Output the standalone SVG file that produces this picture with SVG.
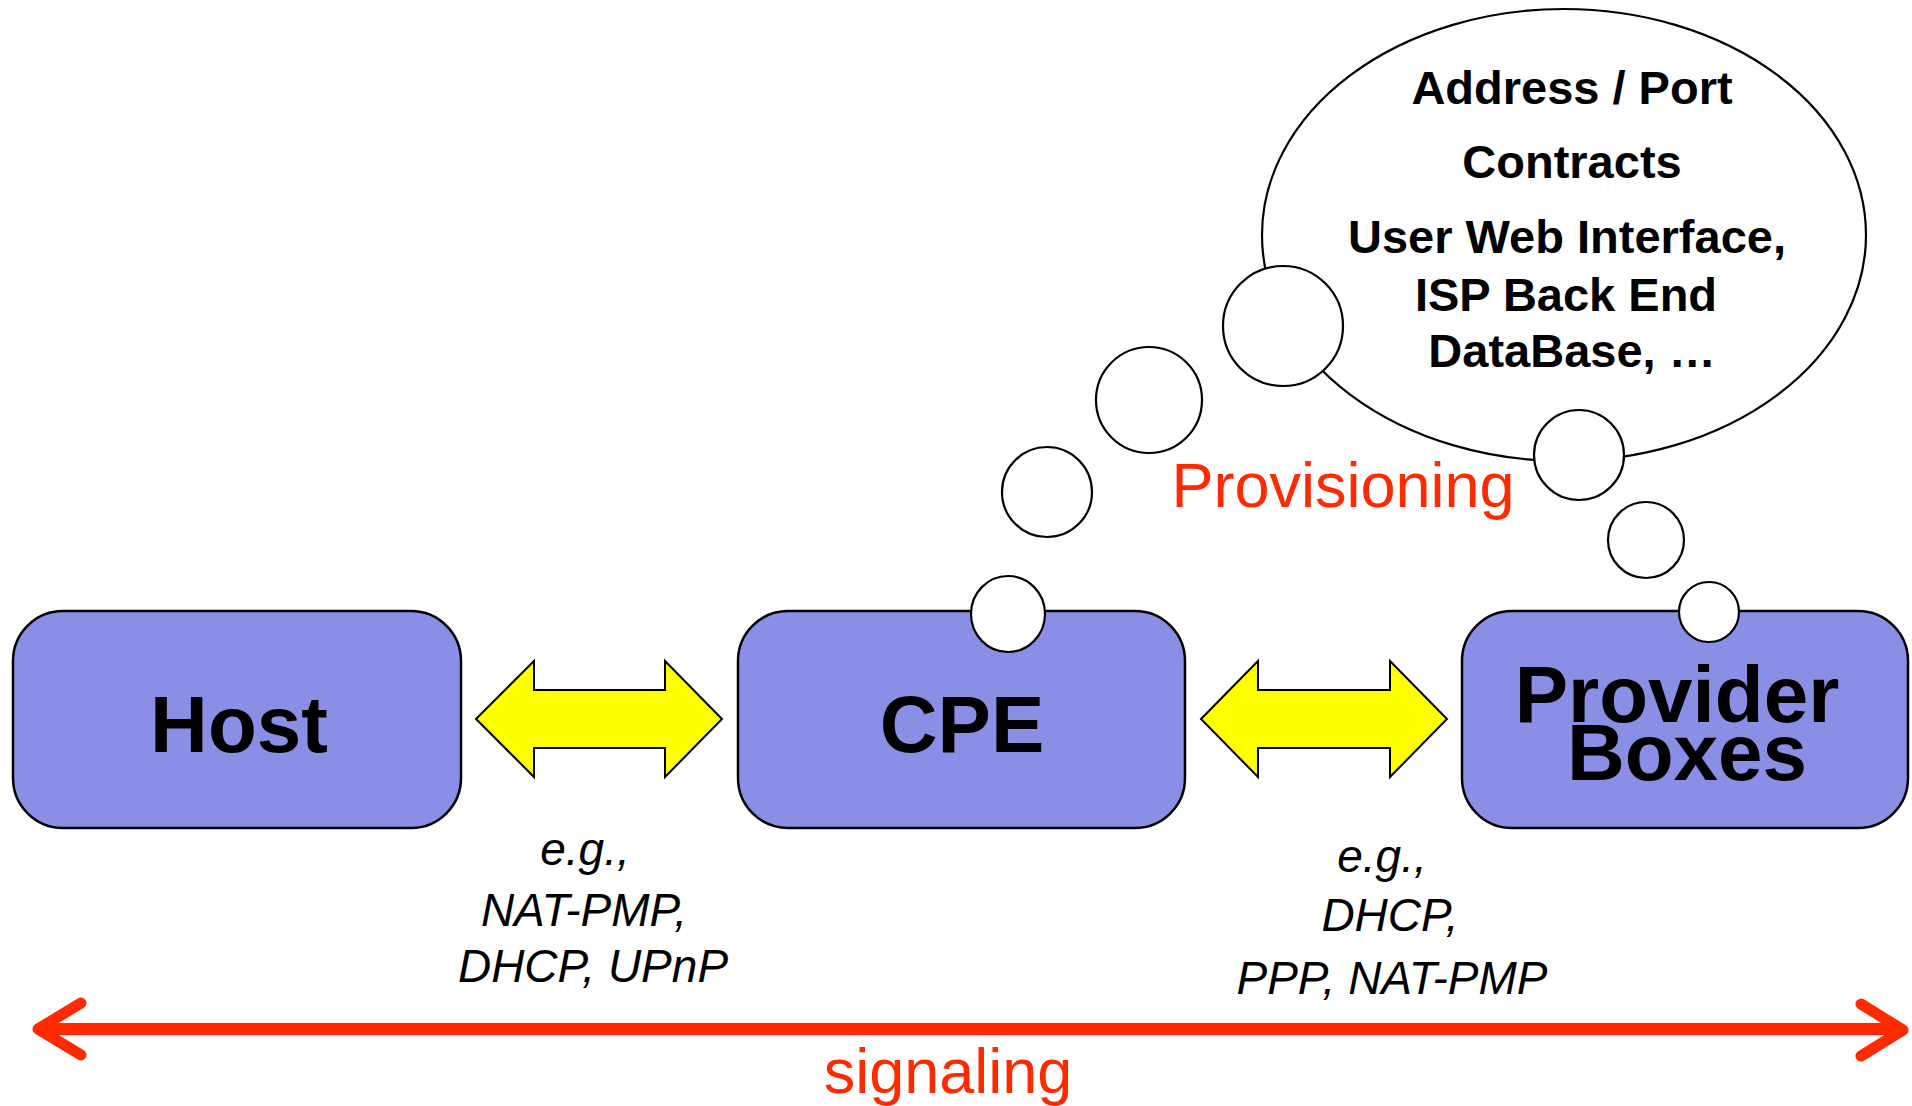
<svg xmlns="http://www.w3.org/2000/svg" width="1912" height="1106" viewBox="0 0 1912 1106">
<style>
.box{fill:#8a8fe5;stroke:#000;stroke-width:2.5}
.big{font-family:"Liberation Sans",Arial,sans-serif;font-weight:bold;font-size:80px;fill:#000;text-anchor:middle}
.bub{fill:#fff;stroke:#000;stroke-width:2.2}
.tb{font-family:"Liberation Sans",Arial,sans-serif;font-weight:bold;font-size:47px;fill:#000;text-anchor:middle}
.red{font-family:"Liberation Sans",Arial,sans-serif;font-size:63px;fill:#ff2a00;text-anchor:middle}
.it{font-family:"Liberation Sans",Arial,sans-serif;font-style:italic;font-size:46px;fill:#000;text-anchor:middle}
.yarrow{fill:#ffff00;stroke:#000;stroke-width:2}
</style>
<rect width="1912" height="1106" fill="#fff"/>

<g id="host">
<rect class="box" x="13" y="611" width="448" height="217" rx="50" ry="50"/>
<text class="big" x="239" y="752">Host</text>
</g>

<g id="cpe">
<rect class="box" x="738" y="611" width="447" height="217" rx="50" ry="50"/>
<text class="big" x="962" y="752">CPE</text>
</g>

<g id="provider">
<rect class="box" x="1462" y="611" width="446" height="217" rx="50" ry="50"/>
<text class="big" x="1677" y="722">Provider</text>
<text class="big" x="1687" y="780">Boxes</text>
</g>

<g id="thought">
<ellipse class="bub" cx="1564" cy="235" rx="302" ry="226"/>
<ellipse class="bub" cx="1283" cy="326" rx="60" ry="60"/>
<ellipse class="bub" cx="1579" cy="455" rx="45" ry="45"/>
<ellipse class="bub" cx="1149" cy="400" rx="53" ry="53"/>
<ellipse class="bub" cx="1047" cy="492" rx="45" ry="45"/>
<ellipse class="bub" cx="1008" cy="614" rx="37" ry="38"/>
<ellipse class="bub" cx="1646" cy="540" rx="38" ry="38"/>
<ellipse class="bub" cx="1709" cy="612" rx="30" ry="30"/>
<text class="tb" x="1572" y="104">Address / Port</text>
<text class="tb" x="1572" y="178">Contracts</text>
<text class="tb" x="1567" y="253">User Web Interface,</text>
<text class="tb" x="1566" y="311">ISP Back End</text>
<text class="tb" x="1572" y="367">DataBase, …</text>
</g>

<g id="labels">
<text class="red" x="1343" y="507">Provisioning</text>
<text class="red" x="948" y="1093">signaling</text>
<text class="it" x="585" y="865">e.g.,</text>
<text class="it" x="584" y="926">NAT-PMP,</text>
<text class="it" x="593" y="982">DHCP, UPnP</text>
<text class="it" x="1382" y="872">e.g.,</text>
<text class="it" x="1390" y="931">DHCP,</text>
<text class="it" x="1392" y="994">PPP, NAT-PMP</text>
</g>

<g id="connectors">
<polygon class="yarrow" points="476,719 534,661 534,690 665,690 665,661 722,719 665,777 665,748 534,748 534,777"/>
<polygon class="yarrow" points="1201,719 1258,661 1258,690 1390,690 1390,661 1447,719 1390,777 1390,748 1258,748 1258,777"/>
<line x1="40" y1="1029" x2="1900" y2="1029" stroke="#ff2a00" stroke-width="12"/>
<polyline points="81,1003 38,1029 81,1055" fill="none" stroke="#ff2a00" stroke-width="11" stroke-linecap="round" stroke-linejoin="round"/>
<polyline points="1861,1004 1903,1030 1861,1056" fill="none" stroke="#ff2a00" stroke-width="11" stroke-linecap="round" stroke-linejoin="round"/>
</g>
</svg>
